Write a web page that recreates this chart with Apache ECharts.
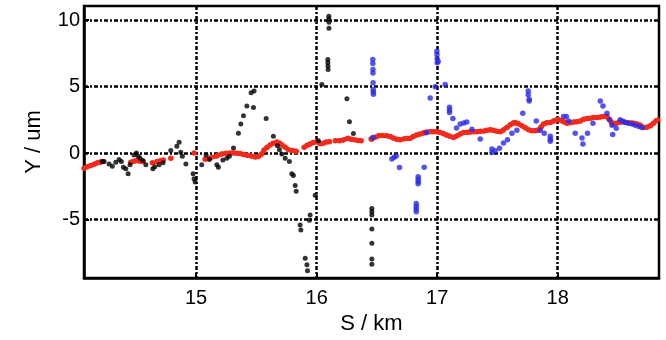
<!DOCTYPE html>
<html><head><meta charset="utf-8">
<script src="https://cdn.jsdelivr.net/npm/echarts@6/dist/echarts.min.js"></script>
<style>html,body{margin:0;padding:0;background:#fff}#c{width:666px;height:340px}</style>
</head><body><div id="c"></div>
<script>
const xTicks = [15, 16, 17, 18];
const yTicks = [-5, 0, 5, 10];

const blackX = [14.222,14.237,14.278,14.305,14.334,14.361,14.380,14.397,14.417,14.436,14.452,14.485,14.505,14.521,14.535,14.558,14.583,14.641,14.657,14.693,14.726,14.790,14.840,14.859,14.873,14.886,14.915,14.975,14.983,14.992,15.047,15.083,15.110,15.172,15.185,15.222,15.255,15.276,15.310,15.351,15.371,15.393,15.421,15.456,15.481,15.476,15.581,15.641,15.675,15.691,15.711,15.739,15.774,15.794,15.807,15.822,15.830,15.863,15.869,15.905,15.919,15.924,15.940,15.946,15.988,16.015,16.043,16.093,16.093,16.094,16.095,16.101,16.101,16.102,16.102,16.251,16.272,16.305,16.458,16.458,16.458,16.458,16.458,16.458,16.458];
const blackY = [-0.62,-0.62,-0.80,-0.97,-0.67,-0.47,-0.62,-1.05,-1.17,-1.55,-0.87,-0.13,0.02,-0.23,-0.37,-0.55,-0.87,-1.17,-1.02,-0.87,-0.72,0.20,0.52,0.82,0.07,-0.22,-0.80,-1.55,-1.92,-2.17,-0.87,-0.13,-0.48,-0.87,-1.05,-0.50,-0.37,-0.23,0.40,1.51,2.19,2.81,3.55,4.55,4.67,3.43,2.61,1.27,0.57,0.27,-0.05,-0.37,-0.62,-1.55,-1.67,-2.42,-2.86,-5.40,-5.77,-7.89,-8.39,-8.84,-5.03,-4.65,-3.16,0.94,5.17,7.04,6.80,6.55,6.30,10.30,10.10,9.85,9.40,4.10,2.36,1.49,-4.15,-4.40,-4.65,-5.70,-6.77,-7.96,-8.35];

const redX = [14.071,14.096,14.126,14.154,14.181,14.203,14.222,null,14.458,14.485,14.510,14.535,14.560,null,14.637,null,14.676,null,14.707,14.728,null,14.790,null,14.983,null,15.075,15.116,15.172,15.213,15.249,15.282,15.310,15.340,15.365,15.393,15.423,15.456,15.490,15.515,15.539,15.564,15.589,15.614,15.639,15.670,15.693,15.714,15.739,15.766,15.797,15.830,null,15.896,15.921,15.946,15.971,16.002,16.029,16.054,16.079,16.106,null,16.154,16.189,16.220,16.259,16.286,16.314,16.344,16.369,null,16.452,16.458,16.485,16.513,16.544,16.583,16.610,16.635,16.664,16.693,16.726,16.751,16.776,16.801,16.830,16.859,16.884,16.913,16.942,16.967,16.998,17.025,17.050,17.075,17.104,17.135,17.162,17.191,17.218,17.249,17.274,17.301,17.329,17.357,17.390,17.415,17.440,17.465,17.494,17.523,17.548,17.578,17.606,17.631,17.647,17.672,17.703,17.730,17.758,17.784,17.813,17.838,17.863,17.882,17.909,17.938,17.965,17.988,18.007,18.033,18.054,18.076,18.104,18.131,18.159,18.187,18.214,18.242,18.270,18.297,18.325,18.353,18.380,18.408,18.427,18.444,18.463,18.485,18.510,18.533,18.560,18.585,18.610,18.629,18.656,18.685,18.712,18.739,18.768,18.793,18.817,18.845];
const redY = [-1.12,-1.02,-0.92,-0.82,-0.72,-0.67,-0.62,null,-0.67,-0.60,-0.55,-0.60,-0.62,null,-0.72,null,-0.62,null,-0.55,-0.50,null,-0.37,null,0.02,null,-0.45,-0.35,-0.20,-0.05,0.00,0.02,0.02,0.00,-0.02,-0.10,-0.15,-0.20,-0.28,-0.25,-0.10,0.25,0.45,0.62,0.75,0.85,0.75,0.60,0.45,0.27,0.20,0.15,null,0.45,0.60,0.70,0.80,0.87,0.72,0.75,0.85,0.87,null,0.94,0.94,1.00,1.12,1.05,1.02,0.95,0.94,null,1.07,1.07,1.20,1.31,1.33,1.31,1.25,1.15,1.05,1.02,1.08,1.10,1.12,1.25,1.38,1.44,1.52,1.60,1.61,1.62,1.61,1.55,1.48,1.38,1.28,1.19,1.30,1.45,1.55,1.58,1.60,1.62,1.61,1.65,1.68,1.72,1.76,1.72,1.65,1.61,1.75,1.94,2.15,2.28,2.31,2.22,2.06,1.92,1.76,1.70,1.69,1.75,2.00,2.19,2.30,2.31,2.43,2.50,2.51,2.45,2.35,2.26,2.30,2.35,2.36,2.43,2.55,2.61,2.64,2.69,2.69,2.72,2.76,2.76,2.55,2.35,2.19,2.25,2.33,2.36,2.33,2.30,2.28,2.26,2.20,2.10,1.94,1.96,2.06,2.25,2.45,2.61];

const blueX = [16.466,16.466,16.467,16.467,16.468,16.469,16.470,16.471,16.466,16.624,16.643,16.660,16.687,16.842,16.842,16.842,16.842,16.826,16.826,16.826,16.826,16.892,16.909,16.942,16.983,16.997,16.998,16.999,17.000,17.008,17.066,17.102,17.102,17.102,17.130,17.160,17.191,17.220,17.245,17.288,17.357,17.454,17.454,17.481,17.517,17.550,17.583,17.620,17.661,17.710,17.755,17.755,17.763,17.763,17.822,17.855,17.888,17.938,17.938,17.938,18.048,18.071,18.090,18.145,18.201,18.209,18.247,18.292,18.353,18.375,18.408,18.430,18.449,18.456,18.485,18.518,18.539,18.560,18.585,18.616,18.643,18.672,18.699];
const blueY = [7.04,6.74,6.30,6.04,5.30,4.80,4.60,4.43,1.19,-0.43,-0.30,-0.20,-1.08,-1.77,-1.95,-2.15,-2.30,-3.78,-4.00,-4.20,-4.40,-1.05,1.54,4.15,5.00,7.66,7.40,7.10,6.80,6.90,5.17,3.45,3.25,3.07,2.61,1.90,2.19,2.28,2.35,1.81,1.07,0.32,0.05,0.19,0.37,0.77,1.02,1.51,1.72,3.01,4.67,4.40,3.93,4.05,2.43,1.72,1.51,1.27,1.05,0.90,2.76,2.76,2.43,1.51,1.15,0.69,1.51,2.25,3.93,3.55,3.01,2.51,2.11,1.40,1.87,2.51,2.40,2.31,2.25,2.19,2.10,2.01,1.94];

const zip = (xs, ys) => xs.map((x, i) => (x === null ? [null, null] : [x, ys[i]]));

const gridLine = { color: '#000', width: 2.5, type: [4, 2, 2, 2] };
const font = 'Liberation Sans, Arial, Helvetica, sans-serif';

const chart = echarts.init(document.getElementById('c'), null, { renderer: 'canvas' });
chart.setOption({
  animation: false,
  backgroundColor: '#fff',
  grid: { left: 84, right: 7, top: 6, bottom: 60, show: true, borderColor: '#000', borderWidth: 2.5, backgroundColor: 'transparent' },
  xAxis: {
    type: 'value', min: 14.07, max: 18.84,
    name: 'S / km', nameLocation: 'middle', nameGap: 35,
    nameTextStyle: { fontFamily: font, fontSize: 22, color: '#000' },
    axisLine: { show: true, onZero: false, lineStyle: { color: '#000', width: 2.5 } },
    axisTick: { show: true, inside: true, length: 5, customValues: xTicks, lineStyle: { color: '#000', width: 2 } },
    axisLabel: { customValues: xTicks, fontFamily: font, fontSize: 20, color: '#000', margin: 10 },
    splitLine: { show: true, lineStyle: gridLine }
  },
  yAxis: {
    type: 'value', min: -9.38, max: 11.07,
    name: 'Y / um', nameLocation: 'middle', nameGap: 39,
    nameTextStyle: { fontFamily: font, fontSize: 22, color: '#000' },
    axisLine: { show: true, onZero: false, lineStyle: { color: '#000', width: 2.5 } },
    axisTick: { show: true, inside: true, length: 5, customValues: yTicks, lineStyle: { color: '#000', width: 2 } },
    axisLabel: { customValues: yTicks, fontFamily: font, fontSize: 20, color: '#000', margin: 4 },
    splitLine: { show: true, lineStyle: gridLine }
  },
  series: [
    { type: 'line', data: zip(redX, redY), connectNulls: false, showSymbol: true, symbol: 'circle', symbolSize: 5.5,
      itemStyle: { color: '#f42a1c' }, lineStyle: { color: '#f42a1c', width: 4.5 }, z: 3 },
    { type: 'scatter', data: zip(blackX, blackY), symbol: 'circle', symbolSize: 5, itemStyle: { color: '#000' }, z: 4 },
    { type: 'scatter', data: zip(blueX, blueY), symbol: 'circle', symbolSize: 5.5, itemStyle: { color: '#2a2ae8' }, z: 4 }
  ]
});
</script></body></html>
